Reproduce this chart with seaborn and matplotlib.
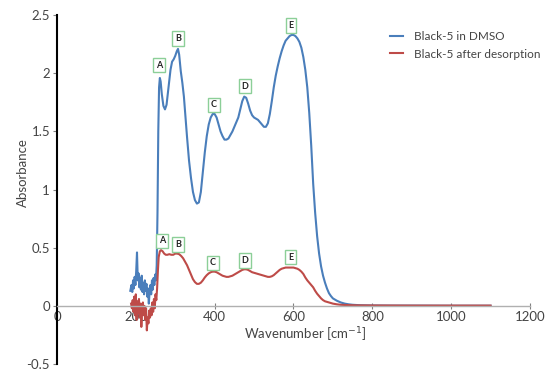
import seaborn as sns
import matplotlib.pyplot as plt
import pandas as pd
import numpy as np

# Black-5 absorbance spectra

dmso_x = [186, 189, 191, 193, 195, 197, 199, 201, 203, 205, 207, 209, 211, 213, 215, 217, 219, 221,
          223, 225, 227, 229, 231, 233, 235, 237, 239, 241, 243, 245, 247, 249, 251, 253,
          255, 257, 259, 261, 263, 266, 270, 274, 278, 283, 288, 292, 296, 300, 304, 307, 310, 314,
          318, 322, 326, 330, 335, 340, 345, 350, 355, 360, 365, 370, 375, 380, 385, 390, 395, 400,
          405, 410, 415, 420, 425, 430, 435, 440, 445, 450, 455, 460, 465, 470, 475, 480, 485, 490,
          495, 500, 505, 510, 515, 520, 525, 530, 535, 540, 545, 550, 555, 560, 565, 570, 575, 580,
          585, 590, 595, 600, 605, 610, 615, 620, 625, 630, 635, 640, 645, 650, 655, 660, 665, 670,
          675, 680, 685, 690, 695, 700, 710, 720, 730, 740, 750, 770, 800, 850, 900, 1000, 1100]
dmso_y = [0.13, 0.18, 0.12, 0.22, 0.15, 0.25, 0.18, 0.30, 0.46, 0.22, 0.28, 0.16, 0.24, 0.14, 0.26, 0.12, 0.20, 0.10,
          0.22, 0.13, 0.19, 0.08, 0.15, 0.02, 0.12, 0.18, 0.10, 0.22, 0.14, 0.24, 0.18, 0.27, 0.22, 0.35,
          0.80, 1.50, 1.88, 1.96, 1.93, 1.82, 1.72, 1.69, 1.73, 1.88, 2.03, 2.10, 2.12, 2.15, 2.19, 2.21, 2.16, 2.02,
          1.92, 1.80, 1.62, 1.45, 1.25, 1.10, 0.98, 0.91, 0.88, 0.89, 0.98, 1.15, 1.32, 1.46, 1.56, 1.62, 1.65, 1.65,
          1.62, 1.56, 1.50, 1.46, 1.43, 1.43, 1.44, 1.47, 1.50, 1.54, 1.58, 1.62, 1.69, 1.76, 1.80, 1.79, 1.74, 1.68,
          1.64, 1.62, 1.61, 1.60, 1.58, 1.56, 1.54, 1.54, 1.57, 1.65, 1.76, 1.88, 1.98, 2.06, 2.13, 2.19, 2.24, 2.28,
          2.30, 2.32, 2.33, 2.33, 2.32, 2.30, 2.27, 2.22, 2.14, 2.03, 1.88, 1.66, 1.38, 1.05, 0.80, 0.60, 0.45, 0.34,
          0.26, 0.20, 0.15, 0.11, 0.085, 0.065, 0.045, 0.03, 0.02, 0.014, 0.01, 0.006, 0.004, 0.003, 0.003, 0.002, 0.002]

desorb_x = [188, 190, 192, 194, 196, 198, 200, 202, 204, 206, 208, 210, 212, 214, 216, 218, 220, 222,
            224, 226, 228, 230, 232, 234, 236, 238, 240, 242, 244, 246, 248, 250, 252, 254,
            256, 258, 261, 264, 268, 272, 276, 280, 285, 290, 295, 300, 305, 310, 315, 320, 325, 330,
            335, 340, 345, 350, 355, 360, 365, 370, 375, 380, 385, 390, 395, 400, 405, 410, 415, 420,
            425, 430, 435, 440, 445, 450, 455, 460, 465, 470, 475, 480, 485, 490, 495, 500, 505, 510,
            515, 520, 525, 530, 535, 540, 545, 550, 555, 560, 565, 570, 575, 580, 585, 590, 595, 600,
            605, 610, 615, 620, 625, 630, 635, 640, 645, 650, 655, 660, 665, 670, 675, 680, 690, 700,
            710, 720, 740, 760, 800, 900, 1000, 1100]
desorb_y = [0.02, -0.02, 0.05, -0.05, 0.08, -0.08, 0.10, -0.12, 0.04, -0.06, 0.06, -0.10, 0.02, -0.18, -0.05, 0.03, -0.08, 0.00,
            -0.12, -0.02, -0.21, -0.10, -0.15, -0.04, -0.10, -0.02, -0.08, 0.03, -0.05, 0.06, -0.02, 0.10, 0.05, 0.15,
            0.30, 0.42, 0.47, 0.48, 0.47, 0.45, 0.44, 0.44, 0.445, 0.44, 0.44, 0.45, 0.45, 0.445, 0.43, 0.41, 0.38, 0.35,
            0.31, 0.27, 0.23, 0.205, 0.19, 0.19, 0.20, 0.22, 0.245, 0.265, 0.28, 0.29, 0.295, 0.295, 0.29, 0.28, 0.27, 0.26,
            0.255, 0.25, 0.25, 0.255, 0.26, 0.27, 0.28, 0.29, 0.30, 0.31, 0.315, 0.315, 0.31, 0.30, 0.29, 0.285, 0.28, 0.275,
            0.27, 0.265, 0.26, 0.255, 0.25, 0.25, 0.255, 0.265, 0.28, 0.295, 0.31, 0.32, 0.325, 0.33, 0.33, 0.33, 0.33, 0.33,
            0.325, 0.32, 0.31, 0.295, 0.275, 0.245, 0.22, 0.20, 0.18, 0.16, 0.13, 0.105, 0.085, 0.065, 0.05, 0.04, 0.03, 0.02,
            0.014, 0.01, 0.007, 0.005, 0.004, 0.003, 0.003, 0.003]

peak_names = ['A', 'B', 'C', 'D', 'E']
dmso_label_x = [259, 307, 398, 477, 594]
dmso_label_y = [2.07, 2.30, 1.73, 1.89, 2.41]
desorb_label_x = [266, 307, 396, 477, 592]
desorb_label_y = [0.56, 0.53, 0.37, 0.39, 0.42]

blue = '#4A7EBB'
red = '#BE4B48'

plt.rcParams['font.family'] = ['Lato', 'DejaVu Sans']

fig = plt.figure(figsize=(5.5, 3.89), dpi=100)
ax = fig.add_axes([0.1036, 0.064, 0.8600, 0.897])

sns.lineplot(x=dmso_x, y=dmso_y, color=blue, linewidth=1.5, sort=False, estimator=None,
             label='Black-5 in DMSO', ax=ax)
sns.lineplot(x=desorb_x, y=desorb_y, color=red, linewidth=1.5, sort=False, estimator=None,
             label='Black-5 after desorption', ax=ax)

box = dict(boxstyle='square,pad=0.3', facecolor='white', edgecolor='#8CCF98', linewidth=1)
for name, lx, ly in zip(peak_names, dmso_label_x, dmso_label_y):
    ax.text(lx, ly, name, ha='center', va='center', fontsize=6.5, fontweight='bold',
            color='#222222', bbox=box)
for name, lx, ly in zip(peak_names, desorb_label_x, desorb_label_y):
    ax.text(lx, ly, name, ha='center', va='center', fontsize=6.5, fontweight='bold',
            color='#222222', bbox=box)

ax.set_xlim(0, 1200)
ax.set_ylim(-0.5, 2.5)
ax.set_xticks([0, 200, 400, 600, 800, 1000, 1200])
ax.set_yticks([-0.5, 0, 0.5, 1, 1.5, 2, 2.5])
ax.set_yticklabels(['-0.5', '0', '0.5', '1', '1.5', '2', '2.5'])

ax.spines['top'].set_visible(False)
ax.spines['right'].set_visible(False)
ax.spines['bottom'].set_position(('data', 0))
ax.spines['bottom'].set_color('#B0B0B0')
ax.spines['bottom'].set_linewidth(1)
ax.spines['left'].set_color('black')
ax.spines['left'].set_linewidth(1.5)
ax.tick_params(axis='x', direction='inout', length=5, color='#808080', labelsize=9.5,
               labelcolor='#444444', pad=1)
ax.tick_params(axis='y', direction='out', length=3, color='#808080', labelsize=9.5,
               labelcolor='#444444', pad=2)

ax.set_xlabel('Wavenumber [cm$^{-1}$]', fontsize=9.5, color='#444444')
ax.xaxis.set_label_coords(0.525, 0.112)
ax.set_ylabel('Absorbance', fontsize=9.5, color='#444444')
ax.yaxis.set_label_coords(-0.06, 0.55)

ax.legend(loc='upper left', bbox_to_anchor=(0.695, 0.968), frameon=False, fontsize=8.5,
          handlelength=1.1, labelcolor='#444444', borderaxespad=0, handletextpad=0.9,
          labelspacing=0.55)

plt.savefig('out.png', dpi=100)
